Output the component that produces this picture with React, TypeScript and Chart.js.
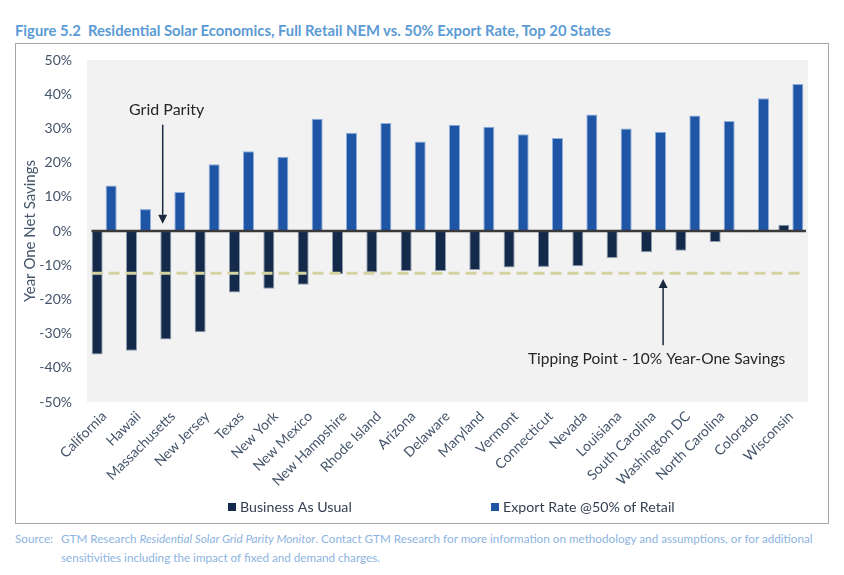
import React, { useEffect, useRef } from "react";
import { Chart, registerables } from "chart.js";

Chart.register(...registerables);

// ---------- data ----------
const categories = [
  "California", "Hawaii", "Massachusetts", "New Jersey", "Texas", "New York",
  "New Mexico", "New Hampshire", "Rhode Island", "Arizona", "Delaware", "Maryland",
  "Vermont", "Connecticut", "Nevada", "Louisiana", "South Carolina", "Washington DC",
  "North Carolina", "Colorado", "Wisconsin",
];
const businessAsUsual = [
  -36.1, -35.0, -31.7, -29.6, -18.0, -16.9, -15.7, -12.6, -12.1, -11.7, -11.7,
  -11.4, -10.7, -10.5, -10.3, -7.9, -6.2, -5.8, -3.2, -0.4, 1.8,
];
const exportRate = [
  13.3, 6.4, 11.4, 19.5, 23.3, 21.7, 32.8, 28.7, 31.6, 26.2, 31.1,
  30.5, 28.3, 27.2, 34.1, 30.0, 29.0, 33.8, 32.2, 38.8, 43.0,
];
const seriesLabels = ["Business As Usual", "Export Rate @50% of Retail"];
const seriesColors = ["#132A4B", "#1F55A5"];
const seriesBorders = ["#8E9BAE", "#8FAFDD"];
const yMin = -50;
const yMax = 50;
const yStep = 10;
const tippingLevel = -12.35;

// annotations (category coordinate, value)
const gridParityText = { label: "Grid Parity", x: 1.82, y: 35.3 };
const gridParityArrow = { x: 1.705, from: 31.1, to: 2.1 };
const tippingText = { label: "Tipping Point - 10% Year-One Savings", x: 16.09, y: -37.5 };
const tippingArrow = { x: 16.28, from: -33.4, to: -14.0 };

const FONT = "Lato, 'Open Sans', sans-serif";
const AXIS_COLOR = "#44546A";

function drawArrow(ctx: CanvasRenderingContext2D, x: number, y1: number, y2: number) {
  const dir = y2 > y1 ? 1 : -1;
  const head = 9;
  ctx.save();
  ctx.strokeStyle = "#1B2A3C";
  ctx.fillStyle = "#1B2A3C";
  ctx.lineWidth = 1.5;
  ctx.beginPath();
  ctx.moveTo(x, y1);
  ctx.lineTo(x, y2 - dir * head);
  ctx.stroke();
  ctx.beginPath();
  ctx.moveTo(x, y2);
  ctx.lineTo(x - 4.5, y2 - dir * head);
  ctx.lineTo(x + 4.5, y2 - dir * head);
  ctx.closePath();
  ctx.fill();
  ctx.restore();
}

const decorPlugin = {
  id: "decor",
  beforeDraw(chart: any) {
    const { ctx, chartArea: a } = chart;
    ctx.save();
    ctx.fillStyle = "#F2F2F2";
    ctx.fillRect(a.left, a.top, a.right - a.left, a.bottom - a.top);
    ctx.restore();
  },
  afterDatasetsDraw(chart: any) {
    const { ctx, chartArea: a, scales } = chart;
    const ys = scales.y;
    const catW = (a.right - a.left) / categories.length;
    const xAt = (c: number) => a.left + (c + 0.5) * catW;

    // zero line
    ctx.save();
    ctx.strokeStyle = "#3A3A3A";
    ctx.lineWidth = 2.5;
    ctx.beginPath();
    ctx.moveTo(a.left + 4.5, ys.getPixelForValue(0));
    ctx.lineTo(a.right - 2, ys.getPixelForValue(0));
    ctx.stroke();

    // tipping dashed line
    ctx.strokeStyle = "#D5D2A2";
    ctx.lineWidth = 3;
    ctx.setLineDash([11, 6]);
    ctx.beginPath();
    ctx.moveTo(a.left + 4.5, ys.getPixelForValue(tippingLevel));
    ctx.lineTo(a.right - 4, ys.getPixelForValue(tippingLevel));
    ctx.stroke();
    ctx.restore();

    // arrows
    drawArrow(ctx, xAt(gridParityArrow.x), ys.getPixelForValue(gridParityArrow.from), ys.getPixelForValue(gridParityArrow.to));
    drawArrow(ctx, xAt(tippingArrow.x), ys.getPixelForValue(tippingArrow.from), ys.getPixelForValue(tippingArrow.to));

    // annotation texts
    ctx.save();
    ctx.fillStyle = "#262626";
    ctx.textAlign = "center";
    ctx.textBaseline = "middle";
    ctx.font = `16px ${FONT}`;
    ctx.fillText(gridParityText.label, xAt(gridParityText.x), ys.getPixelForValue(gridParityText.y));
    ctx.font = `15.5px ${FONT}`;
    ctx.fillText(tippingText.label, xAt(tippingText.x), ys.getPixelForValue(tippingText.y));
    ctx.restore();
  },
  afterDraw(chart: any) {
    const { ctx } = chart;
    // legend
    const items = [
      { x: 212, label: seriesLabels[0], color: seriesColors[0] },
      { x: 475, label: seriesLabels[1], color: seriesColors[1] },
    ];
    const cy = 463;
    ctx.save();
    ctx.font = `14.2px ${FONT}`;
    ctx.textBaseline = "middle";
    ctx.textAlign = "left";
    items.forEach((it) => {
      ctx.fillStyle = it.color;
      ctx.fillRect(it.x, cy - 4, 8, 8);
      ctx.fillStyle = "#333F50";
      ctx.fillText(it.label, it.x + 12, cy);
    });
    ctx.restore();
  },
};

function ChartBox() {
  const ref = useRef<HTMLCanvasElement | null>(null);
  useEffect(() => {
    if (!ref.current) return;
    const chart = new Chart(ref.current, {
      type: "bar",
      data: {
        labels: categories,
        datasets: [
          {
            label: seriesLabels[0],
            data: businessAsUsual,
            backgroundColor: seriesColors[0],
            borderColor: seriesBorders[0],
            borderWidth: 1,
            categoryPercentage: 0.816,
            barPercentage: 0.786,
          },
          {
            label: seriesLabels[1],
            data: exportRate,
            backgroundColor: seriesColors[1],
            borderColor: seriesBorders[1],
            borderWidth: 1,
            categoryPercentage: 0.816,
            barPercentage: 0.786,
          },
        ],
      },
      options: {
        responsive: false,
        maintainAspectRatio: false,
        animation: false,
        layout: { padding: { left: 0, right: 20, top: 16, bottom: 21 } },
        plugins: {
          legend: { display: false },
          tooltip: { enabled: false },
          title: { display: false },
        },
        scales: {
          x: {
            grid: { display: false, drawTicks: false },
            border: { display: false },
            ticks: {
              color: AXIS_COLOR,
              font: { family: FONT, size: 14 },
              minRotation: 45,
              maxRotation: 45,
              autoSkip: false,
              padding: 6,
            },
            afterFit: (s: any) => {
              s.height = 100;
              s.paddingLeft = 0;
              s.paddingRight = 0;
            },
          },
          y: {
            min: yMin,
            max: yMax,
            grid: { display: false, drawTicks: false },
            border: { display: false },
            ticks: {
              stepSize: yStep,
              color: AXIS_COLOR,
              font: { family: FONT, size: 14 },
              padding: 15,
              callback: (v: any) => `${v}%`,
            },
            title: {
              display: true,
              text: "Year One Net Savings",
              color: AXIS_COLOR,
              font: { family: FONT, size: 15 },
              padding: { top: 5, bottom: 0 },
            },
            afterFit: (s: any) => {
              s.width = 71;
              s.paddingTop = 0;
              s.paddingBottom = 0;
            },
          },
        },
      },
      plugins: [decorPlugin],
    });
    return () => chart.destroy();
  }, []);
  return <canvas ref={ref} width={812} height={479} style={{ display: "block" }} />;
}

export default function App() {
  return (
    <div style={{ position: "absolute", left: 0, top: 0, width: 844, height: 575, background: "#fff", fontFamily: FONT }}>
      <div
        style={{
          position: "absolute",
          left: 15,
          top: 21,
          fontSize: 14.8,
          lineHeight: "18px",
          fontWeight: 700,
          color: "#5B9BD5",
          whiteSpace: "nowrap",
        }}
      >
        Figure 5.2&nbsp;&nbsp;Residential Solar Economics, Full Retail NEM vs. 50% Export Rate, Top 20 States
      </div>
      <div
        style={{
          position: "absolute",
          left: 15,
          top: 43,
          width: 814,
          height: 481,
          boxSizing: "border-box",
          border: "1px solid #A6A6A6",
        }}
      >
        <ChartBox />
      </div>
      <div
        style={{
          position: "absolute",
          left: 15,
          top: 529,
          fontSize: 11.7,
          lineHeight: "19px",
          color: "#8DB4E2",
          whiteSpace: "nowrap",
        }}
      >
        <div>
          <span style={{ display: "inline-block", width: 46 }}>Source:</span>
          GTM Research <i>Residential Solar Grid Parity Monitor</i>. Contact GTM Research for more information on methodology and assumptions, or for additional
        </div>
        <div style={{ paddingLeft: 46 }}>sensitivities including the impact of fixed and demand charges.</div>
      </div>
    </div>
  );
}
